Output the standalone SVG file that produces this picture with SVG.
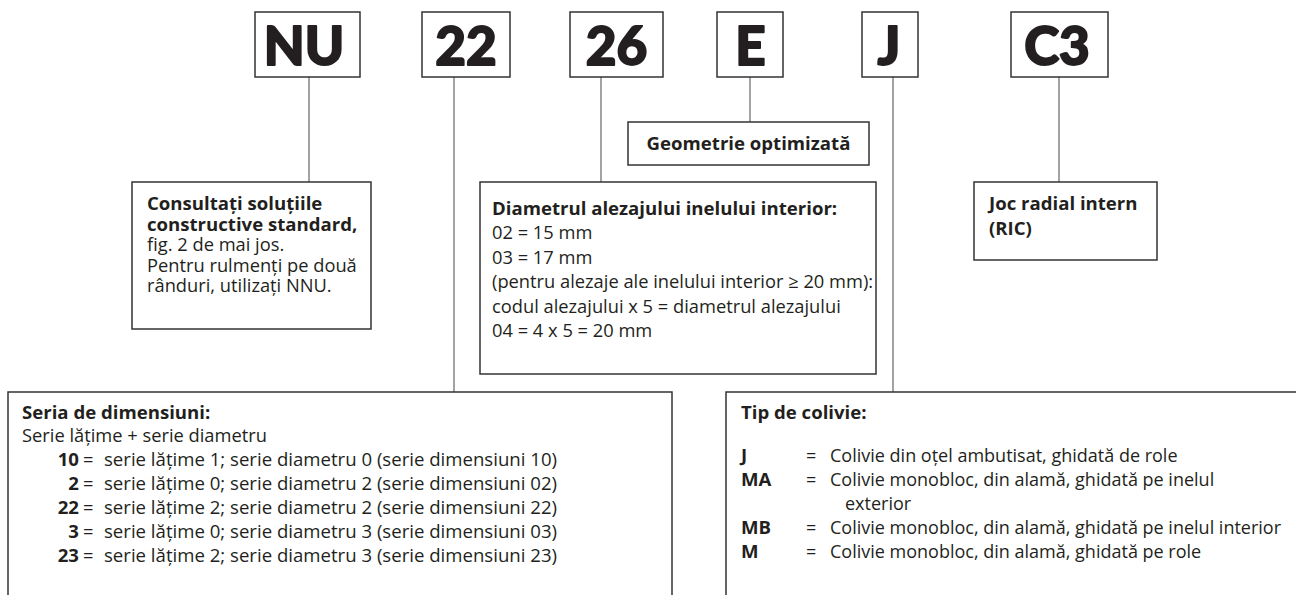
<svg xmlns="http://www.w3.org/2000/svg" width="1296" height="595" viewBox="0 0 1296 595">
<style>
.box{fill:#fff;stroke:#333;stroke-width:1.5}
.code{fill:#fff;stroke:#333;stroke-width:1.5}
.conn{stroke:#666;stroke-width:1.2;fill:none}
text{font-family:"Open Sans","Noto Sans","DejaVu Sans",sans-serif;fill:#231f20;font-size:18.3px}
.b{font-weight:700;font-size:18.6px}
.big{font-family:Lato,"Open Sans",sans-serif;font-size:53px;font-weight:900;text-anchor:middle;stroke:#231f20;stroke-width:1.8;stroke-linejoin:round}
.mid{text-anchor:middle}
.end{text-anchor:end}
.row{font-size:18.6px}
.tip{font-size:18px}
</style>
<rect width="1296" height="595" fill="#fff"/>
<g id="connectors">
<line class="conn" x1="309" y1="77" x2="309" y2="182"/>
<line class="conn" x1="454" y1="77" x2="454" y2="392"/>
<line class="conn" x1="601" y1="77" x2="601" y2="182"/>
<line class="conn" x1="750" y1="77" x2="750" y2="122"/>
<line class="conn" x1="893" y1="77" x2="893" y2="392"/>
<line class="conn" x1="1059" y1="77" x2="1059" y2="182"/>
</g>
<g id="code-NU"><rect class="code" x="255" y="12" width="105" height="65"/><text class="big" x="304" y="65">NU</text></g>
<g id="code-22"><rect class="code" x="422" y="12" width="88" height="65"/><text class="big" x="466" y="65">22</text></g>
<g id="code-26"><rect class="code" x="570" y="12" width="93" height="65"/><text class="big" x="616.5" y="65">26</text></g>
<g id="code-E"><rect class="code" x="717" y="12" width="66" height="65"/><text class="big" x="750.5" y="65">E</text></g>
<g id="code-J"><rect class="code" x="862" y="12" width="56" height="65"/><text class="big" x="889" y="65">J</text></g>
<g id="code-C3"><rect class="code" x="1011" y="12" width="97" height="65"/><text class="big" x="1057" y="65">C3</text></g>

<g id="geometrie"><rect class="box" x="628" y="122" width="241" height="43"/><text class="b mid" x="748.5" y="150">Geometrie optimizată</text></g>

<g id="consultati"><rect class="box" x="132" y="182" width="239" height="147"/>
<text class="b" x="147" y="210">Consultați soluțiile</text>
<text class="b" x="147" y="230.5">constructive standard,</text>
<text x="147" y="251">fig. 2 de mai jos.</text>
<text x="147" y="271.5">Pentru rulmenți pe două</text>
<text x="147" y="292">rânduri, utilizați NNU.</text>
</g>

<g id="diametrul"><rect class="box" x="480" y="182" width="396" height="192"/>
<text class="b" x="492" y="215">Diametrul alezajului inelului interior:</text>
<text x="492" y="239">02 = 15 mm</text>
<text x="492" y="264">03 = 17 mm</text>
<text x="492" y="288">(pentru alezaje ale inelului interior ≥ 20 mm):</text>
<text x="492" y="313">codul alezajului x 5 = diametrul alezajului</text>
<text x="492" y="337">04 = 4 x 5 = 20 mm</text>
</g>

<g id="joc"><rect class="box" x="974" y="182" width="183" height="78"/>
<text class="b" x="989" y="210">Joc radial intern</text>
<text class="b" x="989" y="235">(RIC)</text>
</g>

<g id="seria"><rect class="box" x="8" y="392" width="664" height="230"/>
<text class="b" x="22" y="419">Seria de dimensiuni:</text>
<text x="22" y="442">Serie lățime + serie diametru</text>
<text class="b end" x="79" y="466">10</text><text x="83" y="466">=</text><text class="row" x="104" y="466">serie lățime 1; serie diametru 0 (serie dimensiuni 10)</text>
<text class="b end" x="79" y="490">2</text><text x="83" y="490">=</text><text class="row" x="104" y="490">serie lățime 0; serie diametru 2 (serie dimensiuni 02)</text>
<text class="b end" x="79" y="514">22</text><text x="83" y="514">=</text><text class="row" x="104" y="514">serie lățime 2; serie diametru 2 (serie dimensiuni 22)</text>
<text class="b end" x="79" y="538">3</text><text x="83" y="538">=</text><text class="row" x="104" y="538">serie lățime 0; serie diametru 3 (serie dimensiuni 03)</text>
<text class="b end" x="79" y="562">23</text><text x="83" y="562">=</text><text class="row" x="104" y="562">serie lățime 2; serie diametru 3 (serie dimensiuni 23)</text>
</g>

<g id="colivie"><rect class="box" x="726" y="392" width="600" height="230"/>
<text class="b" x="741" y="419">Tip de colivie:</text>
<text class="b" x="741" y="462">J</text><text class="tip" x="806" y="462">=</text><text class="tip" x="830" y="462">Colivie din oțel ambutisat, ghidată de role</text>
<text class="b" x="741" y="486">MA</text><text class="tip" x="806" y="486">=</text><text class="tip" x="830" y="486">Colivie monobloc, din alamă, ghidată pe inelul</text>
<text class="tip" x="845" y="510">exterior</text>
<text class="b" x="741" y="534">MB</text><text class="tip" x="806" y="534">=</text><text class="tip" x="830" y="534">Colivie monobloc, din alamă, ghidată pe inelul interior</text>
<text class="b" x="741" y="558">M</text><text class="tip" x="806" y="558">=</text><text class="tip" x="830" y="558">Colivie monobloc, din alamă, ghidată pe role</text>
</g>
</svg>
